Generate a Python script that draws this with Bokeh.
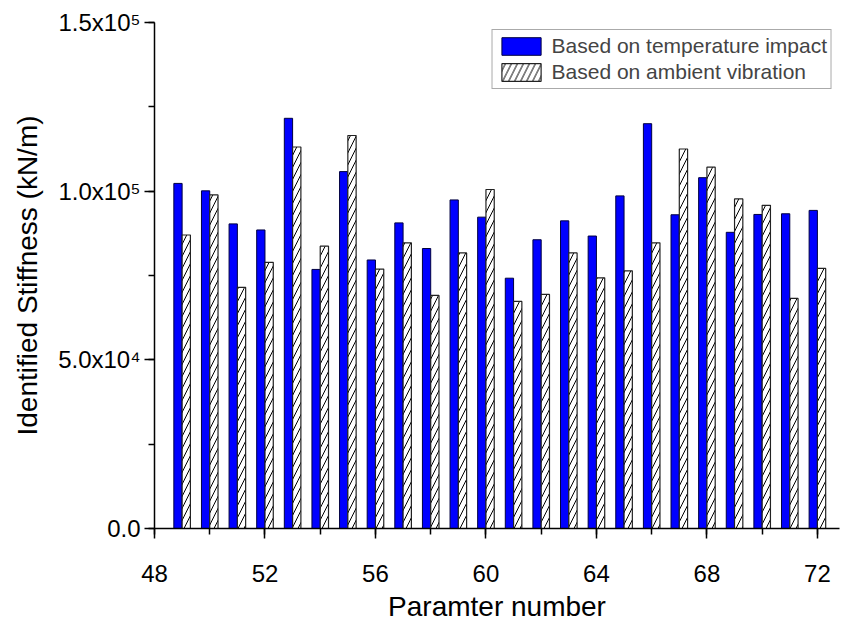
from bokeh.plotting import figure
from bokeh.models import (ColumnDataSource, Range1d, SingleIntervalTicker,
                          Legend, LegendItem)
from bokeh.transform import dodge
from bokeh.embed import file_html
from bokeh.resources import INLINE

# Parameter indices and identified stiffness values (kN/m)
params = [49, 50, 51, 52, 53, 54, 55, 56, 57, 58, 59, 60,
          61, 62, 63, 64, 65, 66, 67, 68, 69, 70, 71, 72]
temperature_impact = [102300, 100100, 90300, 88500, 121600, 76800, 105800, 79600,
                      90600, 83000, 97400, 92300, 74200, 85600, 91200, 86700,
                      98600, 120000, 93000, 104000, 87800, 93100, 93300, 94300]
ambient_vibration = [87000, 98900, 71500, 78900, 113100, 83700, 116500, 76900,
                     84700, 69100, 81700, 100500, 67300, 69400, 81700, 74300,
                     76400, 84700, 112500, 107100, 97700, 95800, 68200, 77100]

y_tick_labels = {0: "0.0", 50000: "5.0x10\u2074",
                 100000: "1.0x10\u2075", 150000: "1.5x10\u2075"}

FONT = "Liberation Sans"

src = ColumnDataSource(dict(param=params, temp=temperature_impact,
                            amb=ambient_vibration))

p = figure(width=841, height=625, output_backend="svg", toolbar_location=None,
           x_range=Range1d(48, 72.8), y_range=Range1d(0, 150000),
           min_border_left=154, min_border_right=2,
           min_border_top=22, min_border_bottom=97)
p.outline_line_color = None
p.grid.visible = False
p.background_fill_color = "white"
p.border_fill_color = "white"

bw = 0.3
r_temp = p.vbar(x=dodge("param", -bw / 2, range=p.x_range), top="temp", width=bw,
                source=src, fill_color="#0000FF", line_color="#000040",
                line_width=1)
r_amb = p.vbar(x=dodge("param", bw / 2, range=p.x_range), top="amb", width=bw,
               source=src, fill_color="white", line_color="#222222",
               line_width=1.2, hatch_pattern="/", hatch_color="black",
               hatch_scale=12, hatch_weight=1)

# Axes
xa = p.xaxis[0]
xa.ticker = SingleIntervalTicker(interval=4, num_minor_ticks=2)
xa.axis_label = "Paramter number"
ya = p.yaxis[0]
ya.ticker = SingleIntervalTicker(interval=50000, num_minor_ticks=2)
ya.major_label_overrides = y_tick_labels
ya.axis_label = "Identified Stiffness (kN/m)"

for ax in (xa, ya):
    ax.axis_line_color = "black"
    ax.axis_line_width = 1.5
    ax.major_tick_line_color = "black"
    ax.major_tick_line_width = 1.5
    ax.minor_tick_line_color = "black"
    ax.minor_tick_line_width = 1.5
    ax.major_tick_in = 0
    ax.major_tick_out = 10
    ax.minor_tick_in = 0
    ax.minor_tick_out = 6
    ax.major_label_text_font = FONT
    ax.major_label_text_font_size = "24px"
    ax.major_label_text_color = "black"
    ax.axis_label_text_font = FONT
    ax.axis_label_text_font_size = "28px"
    ax.axis_label_text_font_style = "normal"
    ax.axis_label_text_color = "black"

xa.major_label_standoff = 26
xa.axis_label_standoff = 6
ya.major_label_standoff = 4
ya.axis_label_standoff = 12

legend = Legend(items=[
    LegendItem(label="Based on temperature impact", renderers=[r_temp]),
    LegendItem(label="Based on ambient vibration", renderers=[r_amb]),
], location="top_right")
legend.label_text_font = FONT
legend.label_text_font_size = "21px"
legend.glyph_width = 49
legend.glyph_height = 22
legend.label_height = 22
legend.spacing = 2
legend.padding = 4
legend.margin = 7
legend.label_standoff = 6
legend.border_line_color = "#555555"
legend.border_line_width = 1
legend.background_fill_alpha = 1.0
p.add_layout(legend)

open("out.html", "w").write(file_html(p, INLINE))
